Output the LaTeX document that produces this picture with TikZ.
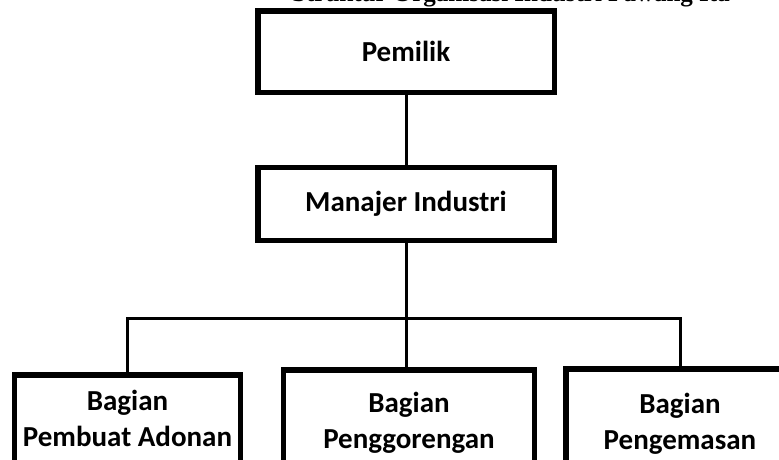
\documentclass[tikz,border=0pt]{standalone}
\usepackage{fontspec}
\setmainfont{Carlito}
\newfontfamily\judulfont{Liberation Serif}
\usetikzlibrary{positioning}
\tikzset{
  kotak/.style={draw, line width=5.5pt, align=center, inner sep=0pt,
    font=\bfseries\fontsize{29}{36}\selectfont},
  garis/.style={line width=3pt},
}
\begin{document}
\begin{tikzpicture}[x=1pt,y=-1pt]
\useasboundingbox (0,0) rectangle (779,459);
\clip (0,0) rectangle (779,459);
\node[anchor=base west,inner sep=0pt,font=\judulfont\bfseries\fontsize{25}{28}\selectfont] (judul) at (292,1.5) {Struktur Organisasi Industri Pawang Ita};
\node[kotak,minimum width=296.5pt,minimum height=81.5pt] (pemilik) at (406,51.5) {Pemilik};
\node[kotak,minimum width=296.5pt,minimum height=73pt] (manajer) at (406,204) {Manajer Industri};
\node[kotak,anchor=north,minimum width=226pt,minimum height=88pt] (adonan) at (127.5,372) {Bagian\\Pembuat Adonan};
\node[kotak,anchor=north,minimum width=251pt,minimum height=106pt] (goreng) at (409,367) {Bagian\\Penggorengan};
\node[kotak,anchor=north,minimum width=228pt,minimum height=110pt] (kemas) at (680,366) {Bagian\\Pengemasan};
\coordinate (cabang) at (406,318);
\draw[garis] (pemilik) -- (manajer);
\draw[garis] (manajer) -- (cabang);
\draw[garis] (adonan) |- (cabang) -| (kemas);
\draw[garis] (cabang) -- (cabang |- goreng.north);
\end{tikzpicture}
\end{document}
